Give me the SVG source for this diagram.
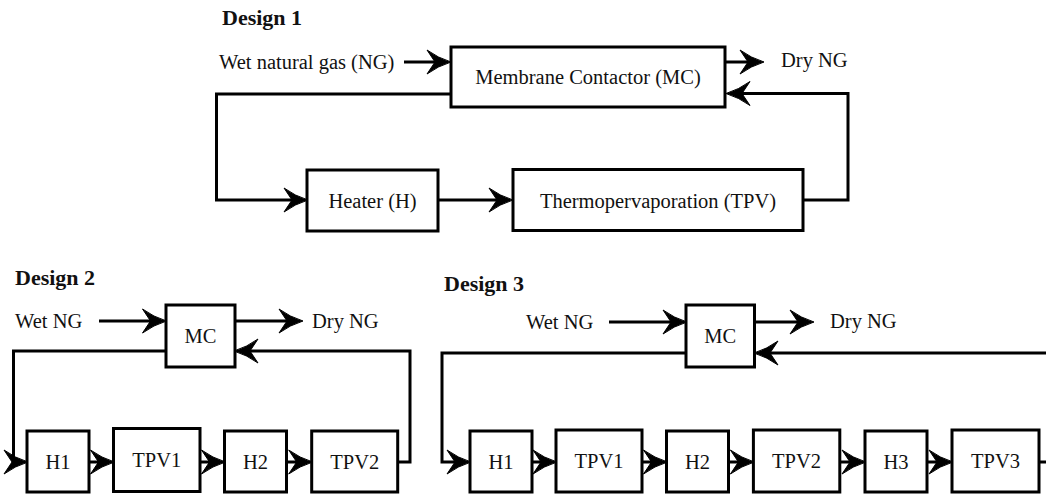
<svg xmlns="http://www.w3.org/2000/svg" width="1046" height="496" viewBox="0 0 1046 496">
<style>
  .bg { fill: #ffffff; }
  .box { fill: #ffffff; stroke: #000; stroke-width: 3; }
  .ln { fill: none; stroke: #000; stroke-width: 3; stroke-linejoin: miter; }
  .arr { marker-end: url(#ah); }
  .t { font-family: "Liberation Serif", "Times New Roman", serif; font-size: 20.5px; fill: #111; }
  .c { text-anchor: middle; }
  .h { font-family: "Liberation Serif", "Times New Roman", serif; font-size: 22px; font-weight: bold; fill: #111; }
</style>
<defs>
  <marker id="ah" viewBox="-26 -14 28 28" markerWidth="28" markerHeight="28" refX="-10" refY="0" orient="auto" markerUnits="userSpaceOnUse" overflow="visible">
    <path d="M1,0 Q-12,-4 -23,-12 L-15,0 L-23,12 Q-12,4 1,0 Z" fill="#000" stroke="#000" stroke-width="1" stroke-linejoin="miter"/>
  </marker>
</defs>
<rect class="bg" x="0" y="0" width="1046" height="496"/>

<!-- titles and free labels -->
<text class="h" x="222" y="25">Design 1</text>
<text class="h" x="15" y="285">Design 2</text>
<text class="h" x="444" y="291">Design 3</text>

<text class="t" x="219" y="69">Wet natural gas (NG)</text>
<text class="t" x="781" y="67">Dry NG</text>
<text class="t" x="15" y="328">Wet NG</text>
<text class="t" x="312" y="328">Dry NG</text>
<text class="t" x="526" y="329">Wet NG</text>
<text class="t" x="830" y="328">Dry NG</text>

<!-- connectors -->
<g id="connectors">
  <!-- Design 1 -->
  <line class="ln arr" x1="404" y1="62" x2="440" y2="62"/>
  <line class="ln arr" x1="725" y1="62" x2="753" y2="62"/>
  <path class="ln arr" d="M803,200 H848 V93.5 H737"/>
  <path class="ln arr" d="M451,94 H216.5 V200 H297"/>
  <line class="ln arr" x1="438" y1="200" x2="502" y2="200"/>
  <!-- Design 2 -->
  <line class="ln arr" x1="99" y1="321" x2="155.5" y2="321"/>
  <line class="ln arr" x1="235" y1="321" x2="292" y2="321"/>
  <path class="ln arr" d="M166,351 H13.5 V462 H17"/>
  <line class="ln arr" x1="89" y1="462" x2="103.5" y2="462"/>
  <line class="ln arr" x1="200" y1="462" x2="214.5" y2="462"/>
  <line class="ln arr" x1="286.5" y1="462" x2="301.7" y2="462"/>
  <path class="ln arr" d="M397.7,462 H410 V351 H245"/>
  <!-- Design 3 -->
  <line class="ln arr" x1="609" y1="322" x2="676" y2="322"/>
  <line class="ln arr" x1="754.5" y1="322" x2="803" y2="322"/>
  <path class="ln arr" d="M686,353 H442 V462 H460"/>
  <path class="ln arr" d="M1050,353 H765"/>
  <line class="ln arr" x1="532" y1="462" x2="546" y2="462"/>
  <line class="ln arr" x1="642" y1="462" x2="656.5" y2="462"/>
  <line class="ln arr" x1="728.6" y1="462" x2="743.4" y2="462"/>
  <line class="ln arr" x1="839.8" y1="462" x2="855" y2="462"/>
  <line class="ln arr" x1="927" y1="462" x2="942" y2="462"/>
  <path class="ln" d="M1039,462 H1050"/>
</g>

<!-- Design 1 nodes -->
<g id="d1-mc"><rect class="box" x="451" y="47" width="274" height="60"/><text class="t c" x="588" y="84">Membrane Contactor (MC)</text></g>
<g id="d1-heater"><rect class="box" x="307" y="170" width="131" height="61"/><text class="t c" x="372.5" y="208">Heater (H)</text></g>
<g id="d1-tpv"><rect class="box" x="513" y="169.5" width="290" height="61"/><text class="t c" x="658" y="208">Thermopervaporation (TPV)</text></g>

<!-- Design 2 nodes -->
<g id="d2-mc"><rect class="box" x="166" y="305" width="69" height="62"/><text class="t c" x="200.5" y="343">MC</text></g>
<g id="d2-h1"><rect class="box" x="27" y="431" width="62" height="61"/><text class="t c" x="58" y="469">H1</text></g>
<g id="d2-tpv1"><rect class="box" x="113.5" y="428.5" width="86.5" height="63"/><text class="t c" x="156.8" y="467">TPV1</text></g>
<g id="d2-h2"><rect class="box" x="224.5" y="431" width="62" height="61"/><text class="t c" x="255.5" y="469">H2</text></g>
<g id="d2-tpv2"><rect class="box" x="311.7" y="431" width="86" height="61"/><text class="t c" x="354.7" y="469">TPV2</text></g>

<!-- Design 3 nodes -->
<g id="d3-mc"><rect class="box" x="686" y="305" width="68.5" height="62"/><text class="t c" x="720.2" y="343">MC</text></g>
<g id="d3-h1"><rect class="box" x="470" y="431" width="62" height="61"/><text class="t c" x="501" y="469">H1</text></g>
<g id="d3-tpv1"><rect class="box" x="556" y="430" width="86" height="62"/><text class="t c" x="599" y="468">TPV1</text></g>
<g id="d3-h2"><rect class="box" x="666.5" y="431" width="62" height="61"/><text class="t c" x="697.5" y="469">H2</text></g>
<g id="d3-tpv2"><rect class="box" x="753.4" y="430" width="86.4" height="62"/><text class="t c" x="796.6" y="468">TPV2</text></g>
<g id="d3-h3"><rect class="box" x="865" y="431" width="62" height="61"/><text class="t c" x="896" y="469">H3</text></g>
<g id="d3-tpv3"><rect class="box" x="952" y="430" width="87" height="62"/><text class="t c" x="995.5" y="468">TPV3</text></g>
</svg>
